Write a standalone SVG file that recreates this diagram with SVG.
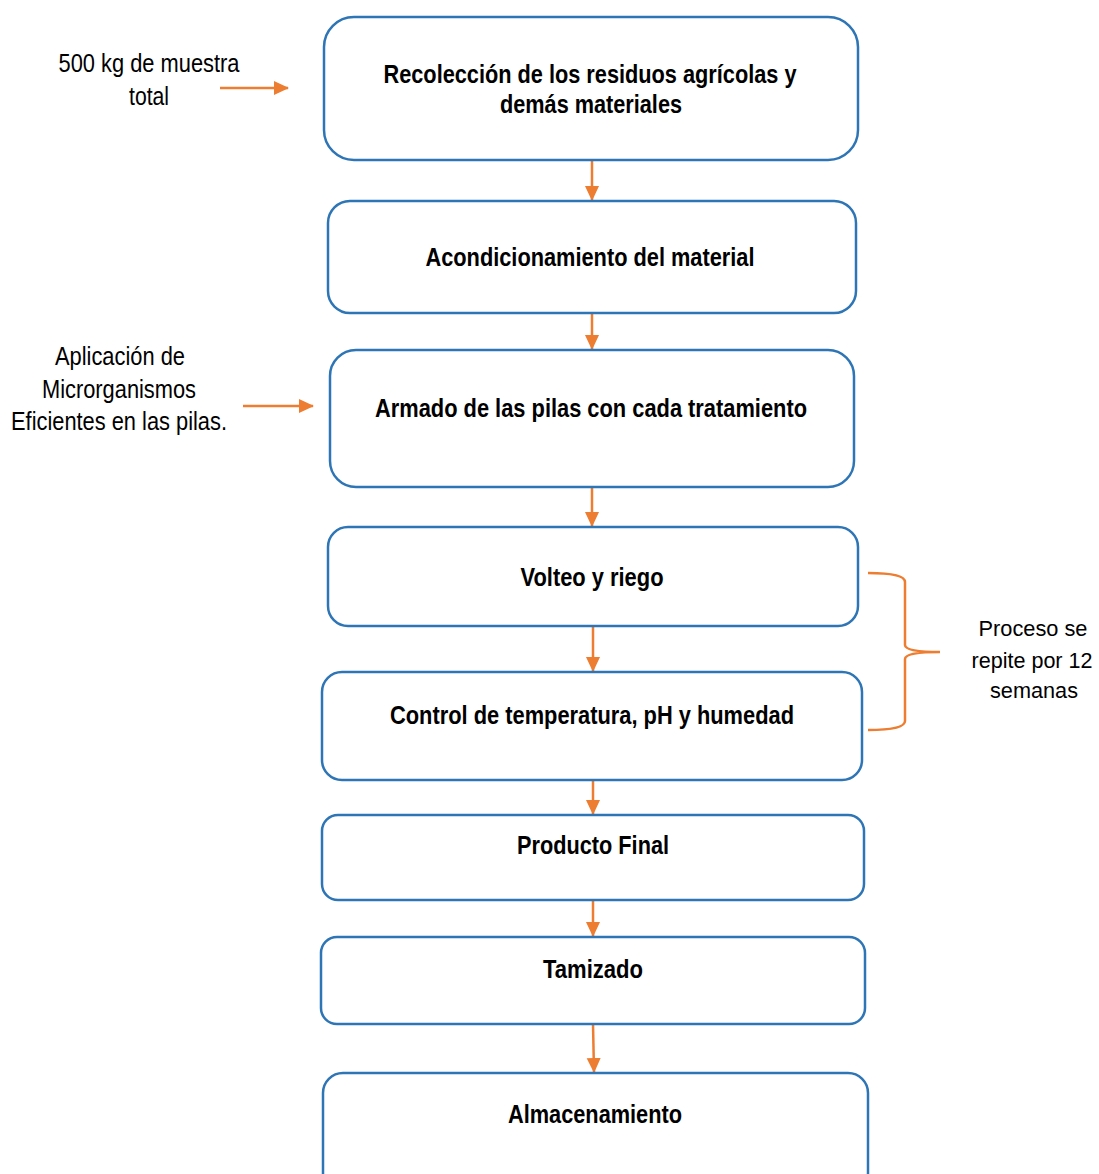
<svg xmlns="http://www.w3.org/2000/svg" width="1099" height="1174" viewBox="0 0 1099 1174">
<defs>
<marker id="ah" markerWidth="16" markerHeight="16" refX="14" refY="7" orient="auto" markerUnits="userSpaceOnUse" viewBox="0 0 16 14">
<path d="M0,0 L15,7 L0,14 z" fill="#ED7D31"/>
</marker>
<style>
.box{fill:#fff;stroke:#2E75B6;stroke-width:2.5}
.t{font-family:"Liberation Sans Narrow","Arial Narrow","Liberation Sans",sans-serif;font-size:25px;font-weight:bold;text-anchor:middle;fill:#000}
.n{font-family:"Liberation Sans Narrow","Arial Narrow","Liberation Sans",sans-serif;font-size:25px;text-anchor:middle;fill:#000}
.s{font-size:22px}
.c{stroke:#ED7D31;stroke-width:2.5;fill:none}
</style>
</defs>
<rect width="1099" height="1174" fill="#fff"/>
<g id="connectors">
<line class="c" x1="592" y1="160" x2="592" y2="200" marker-end="url(#ah)"/>
<line class="c" x1="592" y1="313" x2="592" y2="349" marker-end="url(#ah)"/>
<line class="c" x1="592" y1="487" x2="592" y2="526" marker-end="url(#ah)"/>
<line class="c" x1="593" y1="626" x2="593" y2="671" marker-end="url(#ah)"/>
<line class="c" x1="593" y1="780" x2="593" y2="814" marker-end="url(#ah)"/>
<line class="c" x1="593" y1="900" x2="593" y2="936" marker-end="url(#ah)"/>
<line class="c" x1="593" y1="1024" x2="594" y2="1072" marker-end="url(#ah)"/>
<line class="c" x1="220" y1="88" x2="288" y2="88" marker-end="url(#ah)"/>
<line class="c" x1="243" y1="406" x2="313" y2="406" marker-end="url(#ah)"/>
<path class="c" stroke-width="1.5" d="M868,573 Q905,573 905,582 L905,645 Q905,652 940,652 Q905,652 905,659 L905,721 Q905,730 868,730"/>
</g>
<g id="n1"><rect class="box" x="324" y="17" width="534" height="143" rx="30"/><text class="t" x="590" y="83" textLength="413" lengthAdjust="spacingAndGlyphs">Recolección de los residuos agrícolas y</text><text class="t" x="591" y="113" textLength="182" lengthAdjust="spacingAndGlyphs">demás materiales</text></g>
<g id="n2"><rect class="box" x="328" y="201" width="528" height="112" rx="22"/><text class="t" x="590" y="266" textLength="329" lengthAdjust="spacingAndGlyphs">Acondicionamiento del material</text></g>
<g id="n3"><rect class="box" x="330" y="350" width="524" height="137" rx="26"/><text class="t" x="591" y="417" textLength="432" lengthAdjust="spacingAndGlyphs">Armado de las pilas con cada tratamiento</text></g>
<g id="n4"><rect class="box" x="328" y="527" width="530" height="99" rx="20"/><text class="t" x="592" y="586" textLength="143" lengthAdjust="spacingAndGlyphs">Volteo y riego</text></g>
<g id="n5"><rect class="box" x="322" y="672" width="540" height="108" rx="20"/><text class="t" x="592" y="724" textLength="404" lengthAdjust="spacingAndGlyphs">Control de temperatura, pH y humedad</text></g>
<g id="n6"><rect class="box" x="322" y="815" width="542" height="85" rx="16"/><text class="t" x="593" y="854" textLength="152" lengthAdjust="spacingAndGlyphs">Producto Final</text></g>
<g id="n7"><rect class="box" x="321" y="937" width="544" height="87" rx="16"/><text class="t" x="593" y="978" textLength="100" lengthAdjust="spacingAndGlyphs">Tamizado</text></g>
<g id="n8"><rect class="box" x="323" y="1073" width="545" height="120" rx="20"/><text class="t" x="595" y="1123" textLength="174" lengthAdjust="spacingAndGlyphs">Almacenamiento</text></g>
<g id="lbl1"><text class="n" x="149" y="72" textLength="181" lengthAdjust="spacingAndGlyphs">500 kg de muestra</text><text class="n" x="149" y="105" textLength="40" lengthAdjust="spacingAndGlyphs">total</text></g>
<g id="lbl2"><text class="n" x="120" y="365" textLength="130" lengthAdjust="spacingAndGlyphs">Aplicación de</text><text class="n" x="119" y="398" textLength="154" lengthAdjust="spacingAndGlyphs">Microrganismos</text><text class="n" x="119" y="430" textLength="216" lengthAdjust="spacingAndGlyphs">Eficientes en las pilas.</text></g>
<g id="lbl3"><text class="n s" x="1033" y="636" textLength="109" lengthAdjust="spacingAndGlyphs">Proceso se</text><text class="n s" x="1032" y="668" textLength="121" lengthAdjust="spacingAndGlyphs">repite por 12</text><text class="n s" x="1034" y="698" textLength="88" lengthAdjust="spacingAndGlyphs">semanas</text></g>
</svg>
